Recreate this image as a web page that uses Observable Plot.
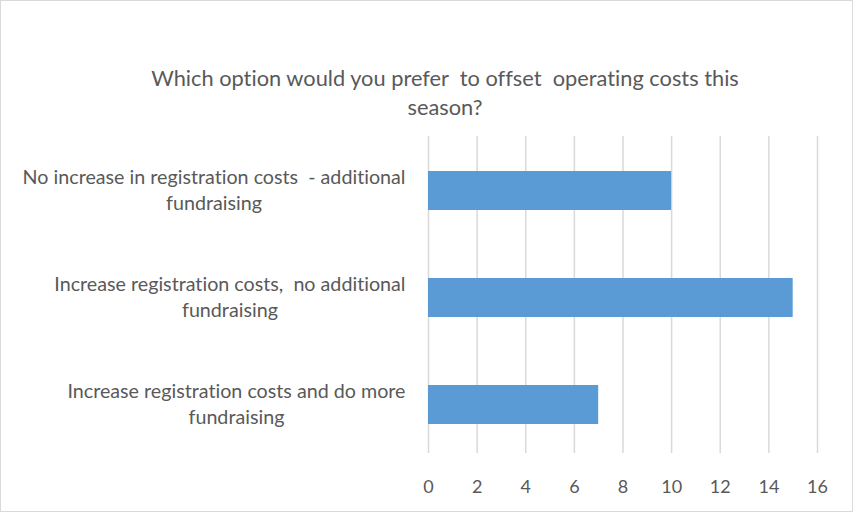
<!DOCTYPE html>
<html><head><meta charset="utf-8">
<script src="https://cdn.jsdelivr.net/npm/d3@7"></script>
<script src="https://cdn.jsdelivr.net/npm/@observablehq/plot@0.6"></script>
<style>
body{margin:0;background:#fff;}
#wrap{position:relative;width:853px;height:512px;font-family:Lato,sans-serif;overflow:hidden;font-variant-ligatures:none;}
#frame{position:absolute;left:0;top:0;width:851px;height:510px;border:1px solid #d9d9d9;pointer-events:none;}
#title{position:absolute;top:63px;left:45px;width:800px;text-align:center;font-size:21.8px;color:#595959;line-height:29px;white-space:nowrap;}
#chart{position:absolute;left:0;top:0;}
svg text{font-variant-ligatures:none;}
</style></head>
<body>
<div id="wrap"><div id="chart"></div><div id="title">Which option would you prefer&nbsp; to offset&nbsp; operating costs this<br>season?</div><div id="frame"></div></div>
<script>
const categories = [
  "No increase in registration costs  - additional fundraising",
  "Increase registration costs,  no additional fundraising",
  "Increase registration costs and do more fundraising"
];
const labelLines = [
  ["No increase in registration costs  - additional", "fundraising"],
  ["Increase registration costs,  no additional", "fundraising"],
  ["Increase registration costs and do more", "fundraising"]
];
const values = [10, 15, 7];
const xTicks = [0, 2, 4, 6, 8, 10, 12, 14, 16];

const data = categories.map((c, i) => ({cat: c, value: values[i], label: labelLines[i].join("\n")}));
const labelOf = new Map(data.map(d => [d.cat, d.label]));

const plot = Plot.plot({
  width: 853, height: 512,
  marginTop: 136, marginBottom: 59, marginLeft: 428, marginRight: 36,
  style: {fontFamily: "Lato, sans-serif", background: "transparent"},
  x: {domain: [0, 16]},
  y: {domain: categories, range: [136, 458.5], padding: 0},
  marks: [
    Plot.gridX(xTicks, {stroke: "#d9d9d9", strokeOpacity: 1, strokeWidth: 1.5}),
    Plot.barX(data, {x: "value", y: "cat", fill: "#5B9BD5", insetTop: 34, insetBottom: 34}),
    Plot.axisX({ticks: xTicks, tickSize: 0, tickPadding: 27, fontSize: 18, color: "#595959", label: null}),
    Plot.axisY({tickSize: 0, tickPadding: 23, fontSize: 19.7, color: "#595959", label: null, dy: -2,
      tickFormat: d => labelOf.get(d), lineHeight: 1.32, textAnchor: "end"})
  ]
});
document.getElementById("chart").appendChild(plot);

// center the lines of each category label within its right-aligned block
plot.querySelectorAll("g[aria-label='y-axis tick label'] text").forEach(t => {
  const spans = Array.from(t.querySelectorAll("tspan"));
  if (!spans.length) return;
  const w = Math.max(...spans.map(s => s.getComputedTextLength()));
  t.setAttribute("text-anchor", "middle");
  spans.forEach(s => s.setAttribute("x", -w / 2));
});
</script>
</body></html>
